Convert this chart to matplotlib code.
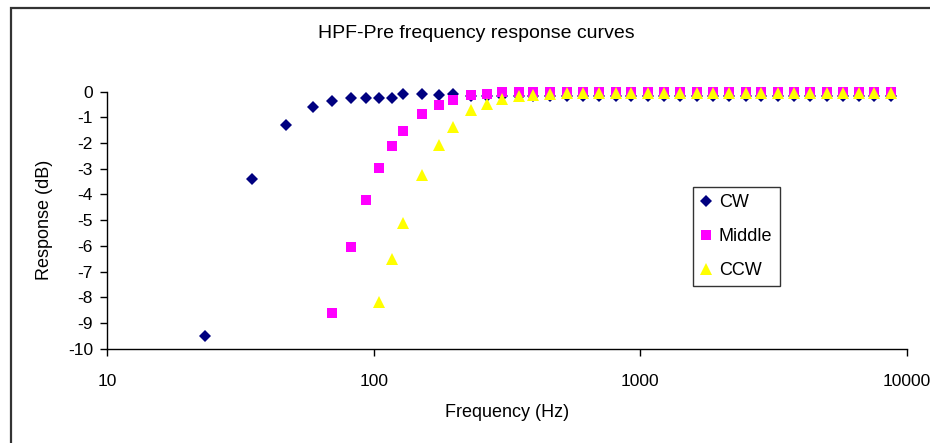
import numpy as np
import matplotlib.pyplot as plt
import matplotlib.patches as mpatches

plt.rcParams['font.family'] = ['Liberation Sans', 'DejaVu Sans']
plt.rcParams['axes.unicode_minus'] = False

# frequencies (Hz)
freq = [23.3, 35, 47, 59, 70, 82, 93.5, 105, 117, 129, 152, 176, 199, 232, 267,
        302, 352, 395, 458, 529, 611, 699, 808, 920, 1065, 1230, 1407, 1625,
        1877, 2155, 2488, 2832, 3273, 3778, 4327, 4998, 5743, 6624, 7536, 8710]

cw = [-9.49, -3.41, -1.31, -0.60, -0.38, -0.25, -0.25, -0.25, -0.25, -0.08,
      -0.08, -0.14, -0.08, -0.18, -0.18, -0.18, -0.18, -0.18, -0.18, -0.18,
      -0.18, -0.18, -0.18, -0.18, -0.18, -0.18, -0.18, -0.18, -0.18, -0.18,
      -0.18, -0.18, -0.18, -0.18, -0.18, -0.18, -0.18, -0.18, -0.18, -0.18]

# Middle starts at 70 Hz
middle = [-8.63, -6.05, -4.21, -2.96, -2.12, -1.53, -0.88, -0.52, -0.34, -0.14,
          -0.10, -0.02, 0.0, 0.0, 0.0, 0.0, 0.0, 0.0, 0.0, 0.0, 0.0, 0.0, 0.0,
          0.0, 0.0, 0.0, 0.0, 0.0, 0.0, 0.0, 0.0, 0.0, 0.0, 0.0, 0.0, 0.0]

# CCW starts at 105 Hz
ccw = [-8.17, -6.51, -5.12, -3.23, -2.09, -1.37, -0.72, -0.49, -0.30, -0.17,
       -0.14, -0.08, -0.05, -0.05, -0.05, -0.05, -0.05, -0.05, -0.05, -0.05,
       -0.05, -0.05, -0.05, -0.05, -0.05, -0.05, -0.05, -0.05, -0.05, -0.05,
       -0.05, -0.05, -0.05]

W, H = 930, 443
fig = plt.figure(figsize=(W / 100, H / 100), dpi=100)

# outer chart border (right/bottom edges are cut off in the original)
fig.patches.append(mpatches.Rectangle((10.5 / W, -0.1), 1.2, 1 - 7.5 / H + 0.1,
                                      transform=fig.transFigure, fill=False,
                                      edgecolor='#333333', linewidth=1.6))

ax = fig.add_axes([107 / W, 1 - 348.7 / H, 800 / W, 257 / H])

ax.plot(freq, cw, linestyle='none', marker='D', markersize=6.2,
        color='#000080', markeredgewidth=0, label='CW')
ax.plot(freq[4:4 + len(middle)], middle, linestyle='none', marker='s',
        markersize=7, color='#FF00FF', markeredgewidth=0, label='Middle')
ax.plot(freq[7:7 + len(ccw)], ccw, linestyle='none', marker='^',
        markersize=8, color='#FFFF00', markeredgewidth=0, label='CCW')

ax.set_xscale('log')
ax.set_xlim(10, 10000)
ax.set_ylim(-10, 0)
ax.set_xticks([10, 100, 1000, 10000])
ax.set_xticklabels(['10', '100', '1000', '10000'])
ax.minorticks_off()
ax.set_yticks(np.arange(-10, 1, 1))
ax.tick_params(axis='both', labelsize=12.5, length=5, width=1, direction='out')
ax.tick_params(axis='x', pad=13)
ax.tick_params(axis='y', pad=5)

for s in ['top', 'right']:
    ax.spines[s].set_visible(False)
for s in ['left', 'bottom']:
    ax.spines[s].set_color('black')
    ax.spines[s].set_linewidth(1)
for line in ax.get_lines():
    line.set_clip_on(False)

ax.set_xlabel('Frequency (Hz)', fontsize=13, labelpad=11)
ax.set_ylabel('Response (dB)', fontsize=13, labelpad=11)

fig.text(476 / W, 1 - 33 / H, 'HPF-Pre frequency response curves',
         ha='center', va='center', fontsize=14)

leg = ax.legend(loc='upper left', bbox_to_anchor=(692.7 / W, 1 - 186.7 / H),
                bbox_transform=fig.transFigure, fontsize=13, frameon=True,
                fancybox=False, shadow=False, borderpad=0.4, labelspacing=0.95,
                handlelength=0.7, handletextpad=0.35, borderaxespad=0)
leg.get_frame().set_edgecolor('black')
leg.get_frame().set_linewidth(1)

fig.savefig('out.png', dpi=100)
